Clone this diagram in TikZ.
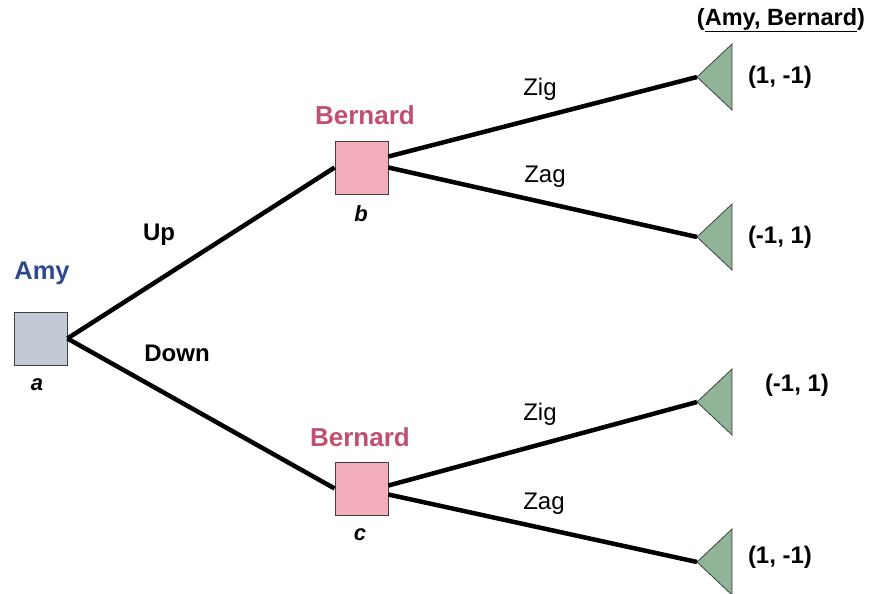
\documentclass[tikz,border=0pt]{standalone}
\usepackage{fontspec}
\setmainfont{Liberation Sans}
\definecolor{amyfill}{HTML}{C4CAD5}
\definecolor{bernfill}{HTML}{F2AEBB}
\definecolor{leaffill}{HTML}{8FB497}
\definecolor{amytext}{HTML}{2E4A8A}
\definecolor{berntext}{HTML}{C0506F}
\begin{document}
\begin{tikzpicture}[x=1pt,y=-1pt,
  sq/.style={draw=black!75,line width=0.8pt,minimum size=53pt,inner sep=0pt},
  edge/.style={line width=4.5pt,black},
  lbl/.style={font=\fontsize{24}{26}\selectfont,inner sep=0pt},
  blbl/.style={font=\fontsize{24}{26}\selectfont\bfseries,inner sep=0pt},
  plbl/.style={font=\fontsize{26}{28}\selectfont\bfseries,inner sep=0pt},
  pay/.style={font=\fontsize{24}{26}\selectfont\bfseries,inner sep=0pt},
  var/.style={font=\fontsize{22}{24}\selectfont\bfseries\itshape,inner sep=0pt},
  leaf/.style={draw=black!75,line width=0.8pt,fill=leaffill}]
\useasboundingbox (0,0) rectangle (871,594);
% decision nodes
\node[sq,fill=amyfill] (a) at (40.5,338.5) {};
\node[sq,fill=bernfill] (b) at (361.5,167.5) {};
\node[sq,fill=bernfill] (c) at (361.5,488.5) {};
% leaf tips
\coordinate (t1) at (697,77);
\coordinate (t2) at (697,237);
\coordinate (t3) at (697,402);
\coordinate (t4) at (697,562);
% edges
\draw[edge] (a.east) -- (b.west);
\draw[edge] (a.east) -- (c.west);
\draw[edge] ([yshift=11pt]b.east) -- (t1);
\draw[edge] (b.east) -- (t2);
\draw[edge] ([yshift=3pt]c.east) -- (t3);
\draw[edge] ([yshift=-6pt]c.east) -- (t4);
% leaves
\foreach \t in {t1,t2,t3,t4}{
  \draw[leaf] (\t) -- ++(35,-33) -- ++(0,66) -- cycle;
}
% player labels
\node[plbl,font=\fontsize{25.5}{27}\selectfont\bfseries,text=amytext] (la) at (42,273) {Amy};
\node[plbl,text=berntext] (lb) at (365,115) {Bernard};
\node[plbl,text=berntext] (lc) at (360,437) {Bernard};
\node[var] (va) at (37,385) {a};
\node[var] (vb) at (361,214) {b};
\node[var] (vc) at (360,535) {c};
% action labels
\node[blbl] (up) at (159,235) {Up};
\node[blbl] (down) at (177,353) {Down};
\node[lbl] (zig1) at (540,89) {Zig};
\node[lbl] (zag1) at (545,177) {Zag};
\node[lbl] (zig2) at (540,414) {Zig};
\node[lbl] (zag2) at (544,504) {Zag};
% payoffs
\node[pay,font=\fontsize{23.5}{25}\selectfont\bfseries] (hdr) at (781,20) {(\underline{Amy, Bernard})};
\node[pay] (p1) at (780,77) {(1, -1)};
\node[pay] (p2) at (780,237) {(-1, 1)};
\node[pay] (p3) at (797,385) {(-1, 1)};
\node[pay] (p4) at (780,557) {(1, -1)};
\end{tikzpicture}
\end{document}
